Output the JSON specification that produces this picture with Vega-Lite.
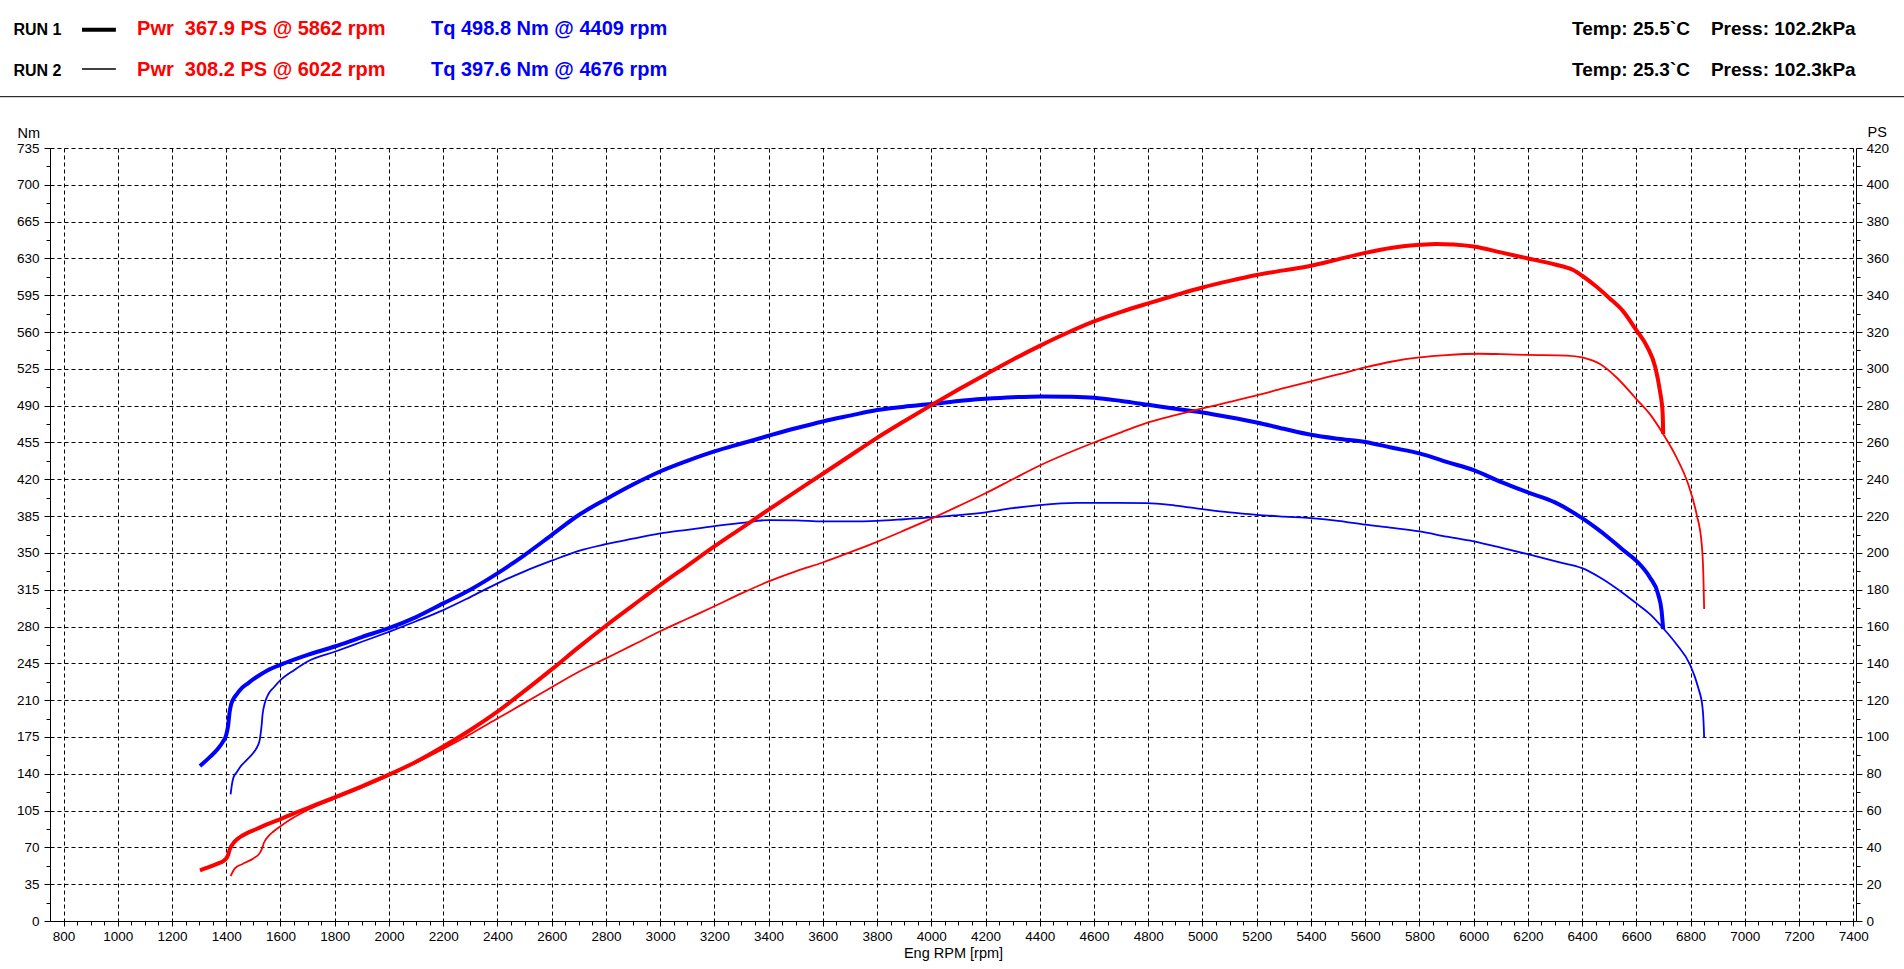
{
  "$schema": "https://vega.github.io/schema/vega-lite/v6.json",
  "autosize": {"type": "none"},
  "padding": {"left": 50, "top": 148, "right": 48, "bottom": 48},
  "width": 1806,
  "height": 773,
  "config": {
    "view": {"stroke": null},
    "font": "Liberation Sans",
    "axis": {
      "domainColor": "black",
      "domainWidth": 1,
      "tickColor": "black",
      "tickWidth": 1,
      "labelColor": "black",
      "labelFontSize": 13.5,
      "titleColor": "black",
      "titleFontSize": 14.5,
      "titleFontWeight": "normal",
      "gridColor": "black",
      "gridDash": [4, 3],
      "gridWidth": 1,
      "labelOverlap": false,
      "labelFlush": false,
      "labelBound": false
    }
  },
  "datasets": {
    "header": [
      {"run": "RUN 1", "pwr": "Pwr\u00a0 367.9 PS @ 5862 rpm", "tq": "Tq 498.8 Nm @ 4409 rpm", "temp": "Temp: 25.5`C", "press": "Press: 102.2kPa"},
      {"run": "RUN 2", "pwr": "Pwr\u00a0 308.2 PS @ 6022 rpm", "tq": "Tq 397.6 Nm @ 4676 rpm", "temp": "Temp: 25.3`C", "press": "Press: 102.3kPa"}
    ],
    "torque": [
      {"run": "RUN 1", "rpm": 1303, "tq": 147.4},
      {"run": "RUN 1", "rpm": 1340, "tq": 156},
      {"run": "RUN 1", "rpm": 1370, "tq": 164},
      {"run": "RUN 1", "rpm": 1389, "tq": 171},
      {"run": "RUN 1", "rpm": 1400, "tq": 177},
      {"run": "RUN 1", "rpm": 1407, "tq": 186},
      {"run": "RUN 1", "rpm": 1412, "tq": 198},
      {"run": "RUN 1", "rpm": 1418, "tq": 206},
      {"run": "RUN 1", "rpm": 1426, "tq": 211},
      {"run": "RUN 1", "rpm": 1440, "tq": 216},
      {"run": "RUN 1", "rpm": 1450, "tq": 219.5},
      {"run": "RUN 1", "rpm": 1480, "tq": 226},
      {"run": "RUN 1", "rpm": 1512, "tq": 232},
      {"run": "RUN 1", "rpm": 1550, "tq": 238},
      {"run": "RUN 1", "rpm": 1600, "tq": 243.6},
      {"run": "RUN 1", "rpm": 1650, "tq": 248.5},
      {"run": "RUN 1", "rpm": 1700, "tq": 253},
      {"run": "RUN 1", "rpm": 1800, "tq": 261},
      {"run": "RUN 1", "rpm": 1900, "tq": 270},
      {"run": "RUN 1", "rpm": 2000, "tq": 278.5},
      {"run": "RUN 1", "rpm": 2100, "tq": 289},
      {"run": "RUN 1", "rpm": 2200, "tq": 302},
      {"run": "RUN 1", "rpm": 2300, "tq": 315},
      {"run": "RUN 1", "rpm": 2400, "tq": 330.5},
      {"run": "RUN 1", "rpm": 2500, "tq": 348},
      {"run": "RUN 1", "rpm": 2600, "tq": 367},
      {"run": "RUN 1", "rpm": 2700, "tq": 386},
      {"run": "RUN 1", "rpm": 2800, "tq": 401},
      {"run": "RUN 1", "rpm": 2900, "tq": 415},
      {"run": "RUN 1", "rpm": 3000, "tq": 427.4},
      {"run": "RUN 1", "rpm": 3100, "tq": 437.5},
      {"run": "RUN 1", "rpm": 3200, "tq": 446.5},
      {"run": "RUN 1", "rpm": 3300, "tq": 454},
      {"run": "RUN 1", "rpm": 3400, "tq": 461.4},
      {"run": "RUN 1", "rpm": 3500, "tq": 468.5},
      {"run": "RUN 1", "rpm": 3600, "tq": 475},
      {"run": "RUN 1", "rpm": 3700, "tq": 480.5},
      {"run": "RUN 1", "rpm": 3800, "tq": 485.8},
      {"run": "RUN 1", "rpm": 3900, "tq": 489},
      {"run": "RUN 1", "rpm": 4000, "tq": 491.5},
      {"run": "RUN 1", "rpm": 4100, "tq": 494.5},
      {"run": "RUN 1", "rpm": 4200, "tq": 496.5},
      {"run": "RUN 1", "rpm": 4300, "tq": 498},
      {"run": "RUN 1", "rpm": 4409, "tq": 498.8},
      {"run": "RUN 1", "rpm": 4500, "tq": 498.5},
      {"run": "RUN 1", "rpm": 4600, "tq": 497.5},
      {"run": "RUN 1", "rpm": 4700, "tq": 494.5},
      {"run": "RUN 1", "rpm": 4800, "tq": 490.8},
      {"run": "RUN 1", "rpm": 4900, "tq": 487},
      {"run": "RUN 1", "rpm": 5000, "tq": 483.5},
      {"run": "RUN 1", "rpm": 5100, "tq": 479},
      {"run": "RUN 1", "rpm": 5200, "tq": 474},
      {"run": "RUN 1", "rpm": 5300, "tq": 468},
      {"run": "RUN 1", "rpm": 5400, "tq": 462.3},
      {"run": "RUN 1", "rpm": 5500, "tq": 458.5},
      {"run": "RUN 1", "rpm": 5600, "tq": 455.5},
      {"run": "RUN 1", "rpm": 5700, "tq": 450},
      {"run": "RUN 1", "rpm": 5800, "tq": 444.6},
      {"run": "RUN 1", "rpm": 5900, "tq": 436.5},
      {"run": "RUN 1", "rpm": 6000, "tq": 428.7},
      {"run": "RUN 1", "rpm": 6100, "tq": 417.5},
      {"run": "RUN 1", "rpm": 6200, "tq": 407.5},
      {"run": "RUN 1", "rpm": 6300, "tq": 398},
      {"run": "RUN 1", "rpm": 6400, "tq": 383},
      {"run": "RUN 1", "rpm": 6450, "tq": 374},
      {"run": "RUN 1", "rpm": 6500, "tq": 364},
      {"run": "RUN 1", "rpm": 6550, "tq": 353},
      {"run": "RUN 1", "rpm": 6600, "tq": 342.5},
      {"run": "RUN 1", "rpm": 6650, "tq": 326.6},
      {"run": "RUN 1", "rpm": 6680, "tq": 311},
      {"run": "RUN 1", "rpm": 6693, "tq": 295},
      {"run": "RUN 1", "rpm": 6699, "tq": 277.5},
      {"run": "RUN 2", "rpm": 1416, "tq": 120.5},
      {"run": "RUN 2", "rpm": 1421, "tq": 130},
      {"run": "RUN 2", "rpm": 1426, "tq": 136},
      {"run": "RUN 2", "rpm": 1440, "tq": 142},
      {"run": "RUN 2", "rpm": 1450, "tq": 146},
      {"run": "RUN 2", "rpm": 1475, "tq": 153},
      {"run": "RUN 2", "rpm": 1500, "tq": 160},
      {"run": "RUN 2", "rpm": 1515, "tq": 166},
      {"run": "RUN 2", "rpm": 1524, "tq": 173},
      {"run": "RUN 2", "rpm": 1530, "tq": 185},
      {"run": "RUN 2", "rpm": 1534, "tq": 196.6},
      {"run": "RUN 2", "rpm": 1542, "tq": 207},
      {"run": "RUN 2", "rpm": 1555, "tq": 215.6},
      {"run": "RUN 2", "rpm": 1575, "tq": 222},
      {"run": "RUN 2", "rpm": 1600, "tq": 229},
      {"run": "RUN 2", "rpm": 1650, "tq": 238.5},
      {"run": "RUN 2", "rpm": 1700, "tq": 246.7},
      {"run": "RUN 2", "rpm": 1800, "tq": 256},
      {"run": "RUN 2", "rpm": 1900, "tq": 265.5},
      {"run": "RUN 2", "rpm": 2000, "tq": 275},
      {"run": "RUN 2", "rpm": 2100, "tq": 285},
      {"run": "RUN 2", "rpm": 2200, "tq": 295.6},
      {"run": "RUN 2", "rpm": 2300, "tq": 308},
      {"run": "RUN 2", "rpm": 2400, "tq": 321},
      {"run": "RUN 2", "rpm": 2500, "tq": 332.5},
      {"run": "RUN 2", "rpm": 2600, "tq": 342.6},
      {"run": "RUN 2", "rpm": 2700, "tq": 352},
      {"run": "RUN 2", "rpm": 2800, "tq": 358.3},
      {"run": "RUN 2", "rpm": 2900, "tq": 363.5},
      {"run": "RUN 2", "rpm": 3000, "tq": 368.5},
      {"run": "RUN 2", "rpm": 3100, "tq": 372},
      {"run": "RUN 2", "rpm": 3200, "tq": 375.5},
      {"run": "RUN 2", "rpm": 3300, "tq": 378.5},
      {"run": "RUN 2", "rpm": 3400, "tq": 381.2},
      {"run": "RUN 2", "rpm": 3500, "tq": 381},
      {"run": "RUN 2", "rpm": 3600, "tq": 380},
      {"run": "RUN 2", "rpm": 3700, "tq": 380},
      {"run": "RUN 2", "rpm": 3800, "tq": 380.5},
      {"run": "RUN 2", "rpm": 3900, "tq": 382},
      {"run": "RUN 2", "rpm": 4000, "tq": 383.7},
      {"run": "RUN 2", "rpm": 4100, "tq": 386},
      {"run": "RUN 2", "rpm": 4200, "tq": 388.5},
      {"run": "RUN 2", "rpm": 4300, "tq": 392.5},
      {"run": "RUN 2", "rpm": 4400, "tq": 395.4},
      {"run": "RUN 2", "rpm": 4537, "tq": 397.5},
      {"run": "RUN 2", "rpm": 4676, "tq": 397.6},
      {"run": "RUN 2", "rpm": 4794, "tq": 397.4},
      {"run": "RUN 2", "rpm": 4900, "tq": 395},
      {"run": "RUN 2", "rpm": 5000, "tq": 391.6},
      {"run": "RUN 2", "rpm": 5100, "tq": 388.5},
      {"run": "RUN 2", "rpm": 5200, "tq": 386.2},
      {"run": "RUN 2", "rpm": 5300, "tq": 384.5},
      {"run": "RUN 2", "rpm": 5400, "tq": 383},
      {"run": "RUN 2", "rpm": 5500, "tq": 380.5},
      {"run": "RUN 2", "rpm": 5600, "tq": 376.8},
      {"run": "RUN 2", "rpm": 5700, "tq": 373.8},
      {"run": "RUN 2", "rpm": 5800, "tq": 370.4},
      {"run": "RUN 2", "rpm": 5900, "tq": 365.5},
      {"run": "RUN 2", "rpm": 6000, "tq": 360.9},
      {"run": "RUN 2", "rpm": 6100, "tq": 355},
      {"run": "RUN 2", "rpm": 6200, "tq": 348.8},
      {"run": "RUN 2", "rpm": 6318, "tq": 341},
      {"run": "RUN 2", "rpm": 6400, "tq": 335.5},
      {"run": "RUN 2", "rpm": 6466, "tq": 326.6},
      {"run": "RUN 2", "rpm": 6539, "tq": 314},
      {"run": "RUN 2", "rpm": 6600, "tq": 302},
      {"run": "RUN 2", "rpm": 6650, "tq": 291.8},
      {"run": "RUN 2", "rpm": 6699, "tq": 278.4},
      {"run": "RUN 2", "rpm": 6748, "tq": 263.2},
      {"run": "RUN 2", "rpm": 6797, "tq": 244.2},
      {"run": "RUN 2", "rpm": 6828, "tq": 222},
      {"run": "RUN 2", "rpm": 6844, "tq": 203},
      {"run": "RUN 2", "rpm": 6849, "tq": 182},
      {"run": "RUN 2", "rpm": 6850, "tq": 174}
    ],
    "power": [
      {"run": "RUN 1", "rpm": 1303, "pwr": 27.5},
      {"run": "RUN 1", "rpm": 1340, "pwr": 29.5},
      {"run": "RUN 1", "rpm": 1370, "pwr": 31.3},
      {"run": "RUN 1", "rpm": 1389, "pwr": 32.6},
      {"run": "RUN 1", "rpm": 1400, "pwr": 34},
      {"run": "RUN 1", "rpm": 1407, "pwr": 36},
      {"run": "RUN 1", "rpm": 1412, "pwr": 38.5},
      {"run": "RUN 1", "rpm": 1420, "pwr": 41},
      {"run": "RUN 1", "rpm": 1430, "pwr": 43},
      {"run": "RUN 1", "rpm": 1450, "pwr": 45.5},
      {"run": "RUN 1", "rpm": 1480, "pwr": 48},
      {"run": "RUN 1", "rpm": 1512, "pwr": 50},
      {"run": "RUN 1", "rpm": 1550, "pwr": 52.5},
      {"run": "RUN 1", "rpm": 1600, "pwr": 55.4},
      {"run": "RUN 1", "rpm": 1650, "pwr": 58.5},
      {"run": "RUN 1", "rpm": 1700, "pwr": 61.4},
      {"run": "RUN 1", "rpm": 1800, "pwr": 67.2},
      {"run": "RUN 1", "rpm": 1900, "pwr": 73.2},
      {"run": "RUN 1", "rpm": 2000, "pwr": 79.5},
      {"run": "RUN 1", "rpm": 2100, "pwr": 86.5},
      {"run": "RUN 1", "rpm": 2200, "pwr": 94.8},
      {"run": "RUN 1", "rpm": 2300, "pwr": 103.8},
      {"run": "RUN 1", "rpm": 2400, "pwr": 113.8},
      {"run": "RUN 1", "rpm": 2500, "pwr": 125},
      {"run": "RUN 1", "rpm": 2600, "pwr": 136.7},
      {"run": "RUN 1", "rpm": 2700, "pwr": 148.8},
      {"run": "RUN 1", "rpm": 2800, "pwr": 160.4},
      {"run": "RUN 1", "rpm": 2900, "pwr": 171.5},
      {"run": "RUN 1", "rpm": 3000, "pwr": 182.5},
      {"run": "RUN 1", "rpm": 3100, "pwr": 193},
      {"run": "RUN 1", "rpm": 3200, "pwr": 203.5},
      {"run": "RUN 1", "rpm": 3300, "pwr": 213.5},
      {"run": "RUN 1", "rpm": 3400, "pwr": 223.5},
      {"run": "RUN 1", "rpm": 3500, "pwr": 233.3},
      {"run": "RUN 1", "rpm": 3600, "pwr": 243},
      {"run": "RUN 1", "rpm": 3700, "pwr": 252.8},
      {"run": "RUN 1", "rpm": 3800, "pwr": 262.5},
      {"run": "RUN 1", "rpm": 3900, "pwr": 271.5},
      {"run": "RUN 1", "rpm": 4000, "pwr": 280.3},
      {"run": "RUN 1", "rpm": 4100, "pwr": 288.8},
      {"run": "RUN 1", "rpm": 4200, "pwr": 297},
      {"run": "RUN 1", "rpm": 4300, "pwr": 305},
      {"run": "RUN 1", "rpm": 4400, "pwr": 312.5},
      {"run": "RUN 1", "rpm": 4500, "pwr": 319.5},
      {"run": "RUN 1", "rpm": 4600, "pwr": 325.8},
      {"run": "RUN 1", "rpm": 4700, "pwr": 331},
      {"run": "RUN 1", "rpm": 4800, "pwr": 335.6},
      {"run": "RUN 1", "rpm": 4900, "pwr": 340},
      {"run": "RUN 1", "rpm": 5000, "pwr": 344.2},
      {"run": "RUN 1", "rpm": 5100, "pwr": 347.8},
      {"run": "RUN 1", "rpm": 5200, "pwr": 351},
      {"run": "RUN 1", "rpm": 5300, "pwr": 353.5},
      {"run": "RUN 1", "rpm": 5400, "pwr": 356},
      {"run": "RUN 1", "rpm": 5500, "pwr": 359.5},
      {"run": "RUN 1", "rpm": 5600, "pwr": 363},
      {"run": "RUN 1", "rpm": 5700, "pwr": 365.8},
      {"run": "RUN 1", "rpm": 5800, "pwr": 367.4},
      {"run": "RUN 1", "rpm": 5862, "pwr": 367.9},
      {"run": "RUN 1", "rpm": 5925, "pwr": 367.6},
      {"run": "RUN 1", "rpm": 6000, "pwr": 366.5},
      {"run": "RUN 1", "rpm": 6100, "pwr": 363.3},
      {"run": "RUN 1", "rpm": 6200, "pwr": 360},
      {"run": "RUN 1", "rpm": 6300, "pwr": 356.7},
      {"run": "RUN 1", "rpm": 6367, "pwr": 353.7},
      {"run": "RUN 1", "rpm": 6400, "pwr": 350.6},
      {"run": "RUN 1", "rpm": 6450, "pwr": 345},
      {"run": "RUN 1", "rpm": 6500, "pwr": 338.5},
      {"run": "RUN 1", "rpm": 6550, "pwr": 331.5},
      {"run": "RUN 1", "rpm": 6600, "pwr": 321},
      {"run": "RUN 1", "rpm": 6640, "pwr": 312},
      {"run": "RUN 1", "rpm": 6670, "pwr": 300.8},
      {"run": "RUN 1", "rpm": 6687, "pwr": 288},
      {"run": "RUN 1", "rpm": 6697, "pwr": 276},
      {"run": "RUN 1", "rpm": 6699, "pwr": 264.6},
      {"run": "RUN 2", "rpm": 1416, "pwr": 24.4},
      {"run": "RUN 2", "rpm": 1432, "pwr": 28.6},
      {"run": "RUN 2", "rpm": 1460, "pwr": 31},
      {"run": "RUN 2", "rpm": 1500, "pwr": 34},
      {"run": "RUN 2", "rpm": 1524, "pwr": 37},
      {"run": "RUN 2", "rpm": 1532, "pwr": 39.5},
      {"run": "RUN 2", "rpm": 1539, "pwr": 42.5},
      {"run": "RUN 2", "rpm": 1555, "pwr": 46},
      {"run": "RUN 2", "rpm": 1573, "pwr": 48.5},
      {"run": "RUN 2", "rpm": 1600, "pwr": 51.5},
      {"run": "RUN 2", "rpm": 1635, "pwr": 55},
      {"run": "RUN 2", "rpm": 1700, "pwr": 60.3},
      {"run": "RUN 2", "rpm": 1800, "pwr": 66.5},
      {"run": "RUN 2", "rpm": 1900, "pwr": 72.5},
      {"run": "RUN 2", "rpm": 2000, "pwr": 79},
      {"run": "RUN 2", "rpm": 2100, "pwr": 86},
      {"run": "RUN 2", "rpm": 2200, "pwr": 93.5},
      {"run": "RUN 2", "rpm": 2300, "pwr": 101.5},
      {"run": "RUN 2", "rpm": 2400, "pwr": 110},
      {"run": "RUN 2", "rpm": 2500, "pwr": 118.5},
      {"run": "RUN 2", "rpm": 2600, "pwr": 127},
      {"run": "RUN 2", "rpm": 2700, "pwr": 135.4},
      {"run": "RUN 2", "rpm": 2800, "pwr": 142.7},
      {"run": "RUN 2", "rpm": 2900, "pwr": 150},
      {"run": "RUN 2", "rpm": 3000, "pwr": 157.4},
      {"run": "RUN 2", "rpm": 3100, "pwr": 164.2},
      {"run": "RUN 2", "rpm": 3200, "pwr": 171},
      {"run": "RUN 2", "rpm": 3300, "pwr": 178},
      {"run": "RUN 2", "rpm": 3400, "pwr": 184.5},
      {"run": "RUN 2", "rpm": 3500, "pwr": 190},
      {"run": "RUN 2", "rpm": 3600, "pwr": 194.8},
      {"run": "RUN 2", "rpm": 3700, "pwr": 200.3},
      {"run": "RUN 2", "rpm": 3800, "pwr": 206},
      {"run": "RUN 2", "rpm": 3900, "pwr": 212.2},
      {"run": "RUN 2", "rpm": 4000, "pwr": 218.6},
      {"run": "RUN 2", "rpm": 4100, "pwr": 225.4},
      {"run": "RUN 2", "rpm": 4200, "pwr": 232.4},
      {"run": "RUN 2", "rpm": 4300, "pwr": 240},
      {"run": "RUN 2", "rpm": 4400, "pwr": 247.5},
      {"run": "RUN 2", "rpm": 4500, "pwr": 254},
      {"run": "RUN 2", "rpm": 4600, "pwr": 260},
      {"run": "RUN 2", "rpm": 4700, "pwr": 265.5},
      {"run": "RUN 2", "rpm": 4800, "pwr": 270.9},
      {"run": "RUN 2", "rpm": 4900, "pwr": 274.8},
      {"run": "RUN 2", "rpm": 5000, "pwr": 278.5},
      {"run": "RUN 2", "rpm": 5100, "pwr": 282},
      {"run": "RUN 2", "rpm": 5200, "pwr": 285.6},
      {"run": "RUN 2", "rpm": 5300, "pwr": 289.5},
      {"run": "RUN 2", "rpm": 5400, "pwr": 293.2},
      {"run": "RUN 2", "rpm": 5500, "pwr": 297},
      {"run": "RUN 2", "rpm": 5600, "pwr": 300.8},
      {"run": "RUN 2", "rpm": 5700, "pwr": 304},
      {"run": "RUN 2", "rpm": 5800, "pwr": 306.2},
      {"run": "RUN 2", "rpm": 5900, "pwr": 307.5},
      {"run": "RUN 2", "rpm": 6022, "pwr": 308.2},
      {"run": "RUN 2", "rpm": 6100, "pwr": 308},
      {"run": "RUN 2", "rpm": 6200, "pwr": 307.6},
      {"run": "RUN 2", "rpm": 6343, "pwr": 307.2},
      {"run": "RUN 2", "rpm": 6400, "pwr": 306.2},
      {"run": "RUN 2", "rpm": 6466, "pwr": 302.6},
      {"run": "RUN 2", "rpm": 6527, "pwr": 295.3},
      {"run": "RUN 2", "rpm": 6600, "pwr": 283.6},
      {"run": "RUN 2", "rpm": 6650, "pwr": 275.4},
      {"run": "RUN 2", "rpm": 6699, "pwr": 264.6},
      {"run": "RUN 2", "rpm": 6748, "pwr": 251.9},
      {"run": "RUN 2", "rpm": 6791, "pwr": 237.4},
      {"run": "RUN 2", "rpm": 6822, "pwr": 221.1},
      {"run": "RUN 2", "rpm": 6841, "pwr": 204.8},
      {"run": "RUN 2", "rpm": 6847, "pwr": 188.5},
      {"run": "RUN 2", "rpm": 6850, "pwr": 169.5}
    ]
  },
  "layer": [
    {
      "data": {"name": "torque"},
      "mark": {"type": "line", "color": "#0000FF", "interpolate": "monotone"},
      "encoding": {
        "x": {
          "field": "rpm",
          "type": "quantitative",
          "scale": {"domain": [750, 7410], "nice": false, "zero": false},
          "axis": {
            "orient": "bottom",
            "title": "Eng RPM [rpm]",
            "titleY": 36,
            "titleBaseline": "alphabetic",
            "format": "d",
            "values": [800,850,900,950,1000,1050,1100,1150,1200,1250,1300,1350,1400,1450,1500,1550,1600,1650,1700,1750,1800,1850,1900,1950,2000,2050,2100,2150,2200,2250,2300,2350,2400,2450,2500,2550,2600,2650,2700,2750,2800,2850,2900,2950,3000,3050,3100,3150,3200,3250,3300,3350,3400,3450,3500,3550,3600,3650,3700,3750,3800,3850,3900,3950,4000,4050,4100,4150,4200,4250,4300,4350,4400,4450,4500,4550,4600,4650,4700,4750,4800,4850,4900,4950,5000,5050,5100,5150,5200,5250,5300,5350,5400,5450,5500,5550,5600,5650,5700,5750,5800,5850,5900,5950,6000,6050,6100,6150,6200,6250,6300,6350,6400,6450,6500,6550,6600,6650,6700,6750,6800,6850,6900,6950,7000,7050,7100,7150,7200,7250,7300,7350,7400],
            "labelExpr": "datum.value % 200 === 0 ? datum.label : ''",
            "labelPadding": 3,
            "grid": true,
            "gridOpacity": {"condition": {"test": "datum.value % 200 === 0", "value": 1}, "value": 0},
            "tickSize": {"condition": {"test": "datum.value % 200 === 0", "value": 5}, "value": 4}
          }
        },
        "y": {
          "field": "tq",
          "type": "quantitative",
          "scale": {"domain": [0, 735], "nice": false, "zero": false},
          "axis": {
            "orient": "left",
            "title": "Nm",
            "titleAngle": 0,
            "titleAlign": "left",
            "titleBaseline": "alphabetic",
            "titleX": -33,
            "titleY": -11,
            "values": [0,17.5,35,52.5,70,87.5,105,122.5,140,157.5,175,192.5,210,227.5,245,262.5,280,297.5,315,332.5,350,367.5,385,402.5,420,437.5,455,472.5,490,507.5,525,542.5,560,577.5,595,612.5,630,647.5,665,682.5,700,717.5,735],
            "labelExpr": "datum.value % 35 === 0 ? datum.label : ''",
            "labelPadding": 5,
            "grid": true,
            "gridOpacity": {"condition": {"test": "datum.value % 35 === 0", "value": 1}, "value": 0},
            "tickSize": {"condition": {"test": "datum.value % 35 === 0", "value": 6}, "value": 4}
          }
        },
        "strokeWidth": {
          "field": "run",
          "type": "ordinal",
          "scale": {"domain": ["RUN 1", "RUN 2"], "range": [4, 1.8]},
          "legend": null
        }
      }
    },
    {
      "data": {"name": "power"},
      "mark": {"type": "line", "color": "#FF0000", "interpolate": "monotone"},
      "encoding": {
        "x": {"field": "rpm", "type": "quantitative", "axis": null},
        "y": {
          "field": "pwr",
          "type": "quantitative",
          "scale": {"domain": [0, 420], "nice": false, "zero": false},
          "axis": {
            "orient": "right",
            "title": "PS",
            "titleAngle": 0,
            "titleAlign": "left",
            "titleBaseline": "alphabetic",
            "titleX": 11,
            "titleY": -12,
            "values": [0,10,20,30,40,50,60,70,80,90,100,110,120,130,140,150,160,170,180,190,200,210,220,230,240,250,260,270,280,290,300,310,320,330,340,350,360,370,380,390,400,410,420],
            "labelExpr": "datum.value % 20 === 0 ? datum.label : ''",
            "labelPadding": 4,
            "grid": false,
            "tickSize": {"condition": {"test": "datum.value % 20 === 0", "value": 6}, "value": 4}
          }
        },
        "strokeWidth": {
          "field": "run",
          "type": "ordinal",
          "scale": {"domain": ["RUN 1", "RUN 2"], "range": [4, 1.8]},
          "legend": null
        }
      }
    },
    {
      "data": {"name": "header"},
      "transform": [{"filter": "datum.run === 'RUN 1'"}],
      "mark": {"type": "rule", "color": "black", "strokeWidth": 1},
      "encoding": {
        "x": {"datum": 565, "axis": null},
        "x2": {"datum": 7590},
        "y": {"datum": 783.8, "scale": {"domain": [0, 735], "nice": false, "zero": false}, "axis": null}
      }
    },
    {
      "data": {"name": "header"},
      "transform": [{"filter": "datum.run === 'RUN 1'"}],
      "mark": {"type": "rule", "color": "black", "strokeWidth": 4},
      "encoding": {
        "x": {"datum": 868, "axis": null},
        "x2": {"datum": 993},
        "y": {"datum": 847.5, "scale": {"domain": [0, 735], "nice": false, "zero": false}, "axis": null}
      }
    },
    {
      "data": {"name": "header"},
      "transform": [{"filter": "datum.run === 'RUN 2'"}],
      "mark": {"type": "rule", "color": "black", "strokeWidth": 1.5},
      "encoding": {
        "x": {"datum": 868, "axis": null},
        "x2": {"datum": 993},
        "y": {"datum": 810.1, "scale": {"domain": [0, 735], "nice": false, "zero": false}, "axis": null}
      }
    },
    {
      "data": {"name": "header"},
      "transform": [{"filter": "datum.run === 'RUN 1'"}],
      "mark": {"type": "text", "align": "left", "baseline": "alphabetic", "fontSize": 16, "fontWeight": "bold", "color": "black"},
      "encoding": {
        "x": {"datum": 615, "axis": null},
        "y": {"datum": 842, "scale": {"domain": [0, 735], "nice": false, "zero": false}, "axis": null},
        "text": {"field": "run"}
      }
    },
    {
      "data": {"name": "header"},
      "transform": [{"filter": "datum.run === 'RUN 2'"}],
      "mark": {"type": "text", "align": "left", "baseline": "alphabetic", "fontSize": 16, "fontWeight": "bold", "color": "black"},
      "encoding": {
        "x": {"datum": 615, "axis": null},
        "y": {"datum": 803.5, "scale": {"domain": [0, 735], "nice": false, "zero": false}, "axis": null},
        "text": {"field": "run"}
      }
    },
    {
      "data": {"name": "header"},
      "transform": [{"filter": "datum.run === 'RUN 1'"}],
      "mark": {"type": "text", "align": "left", "baseline": "alphabetic", "fontSize": 20, "fontWeight": "bold", "color": "#FF0000"},
      "encoding": {
        "x": {"datum": 1071, "axis": null},
        "y": {"datum": 842, "scale": {"domain": [0, 735], "nice": false, "zero": false}, "axis": null},
        "text": {"field": "pwr"}
      }
    },
    {
      "data": {"name": "header"},
      "transform": [{"filter": "datum.run === 'RUN 2'"}],
      "mark": {"type": "text", "align": "left", "baseline": "alphabetic", "fontSize": 20, "fontWeight": "bold", "color": "#FF0000"},
      "encoding": {
        "x": {"datum": 1071, "axis": null},
        "y": {"datum": 803.5, "scale": {"domain": [0, 735], "nice": false, "zero": false}, "axis": null},
        "text": {"field": "pwr"}
      }
    },
    {
      "data": {"name": "header"},
      "transform": [{"filter": "datum.run === 'RUN 1'"}],
      "mark": {"type": "text", "align": "left", "baseline": "alphabetic", "fontSize": 20, "fontWeight": "bold", "color": "#0000FF"},
      "encoding": {
        "x": {"datum": 2155, "axis": null},
        "y": {"datum": 842, "scale": {"domain": [0, 735], "nice": false, "zero": false}, "axis": null},
        "text": {"field": "tq"}
      }
    },
    {
      "data": {"name": "header"},
      "transform": [{"filter": "datum.run === 'RUN 2'"}],
      "mark": {"type": "text", "align": "left", "baseline": "alphabetic", "fontSize": 20, "fontWeight": "bold", "color": "#0000FF"},
      "encoding": {
        "x": {"datum": 2155, "axis": null},
        "y": {"datum": 803.5, "scale": {"domain": [0, 735], "nice": false, "zero": false}, "axis": null},
        "text": {"field": "tq"}
      }
    },
    {
      "data": {"name": "header"},
      "transform": [{"filter": "datum.run === 'RUN 1'"}],
      "mark": {"type": "text", "align": "left", "baseline": "alphabetic", "fontSize": 19, "fontWeight": "bold", "color": "black"},
      "encoding": {
        "x": {"datum": 6363, "axis": null},
        "y": {"datum": 842, "scale": {"domain": [0, 735], "nice": false, "zero": false}, "axis": null},
        "text": {"field": "temp"}
      }
    },
    {
      "data": {"name": "header"},
      "transform": [{"filter": "datum.run === 'RUN 2'"}],
      "mark": {"type": "text", "align": "left", "baseline": "alphabetic", "fontSize": 19, "fontWeight": "bold", "color": "black"},
      "encoding": {
        "x": {"datum": 6363, "axis": null},
        "y": {"datum": 803.5, "scale": {"domain": [0, 735], "nice": false, "zero": false}, "axis": null},
        "text": {"field": "temp"}
      }
    },
    {
      "data": {"name": "header"},
      "transform": [{"filter": "datum.run === 'RUN 1'"}],
      "mark": {"type": "text", "align": "left", "baseline": "alphabetic", "fontSize": 19, "fontWeight": "bold", "color": "black"},
      "encoding": {
        "x": {"datum": 6875, "axis": null},
        "y": {"datum": 842, "scale": {"domain": [0, 735], "nice": false, "zero": false}, "axis": null},
        "text": {"field": "press"}
      }
    },
    {
      "data": {"name": "header"},
      "transform": [{"filter": "datum.run === 'RUN 2'"}],
      "mark": {"type": "text", "align": "left", "baseline": "alphabetic", "fontSize": 19, "fontWeight": "bold", "color": "black"},
      "encoding": {
        "x": {"datum": 6875, "axis": null},
        "y": {"datum": 803.5, "scale": {"domain": [0, 735], "nice": false, "zero": false}, "axis": null},
        "text": {"field": "press"}
      }
    }
  ],
  "resolve": {
    "scale": {"y": "independent"},
    "axis": {"x": "independent", "y": "independent"}
  }
}
